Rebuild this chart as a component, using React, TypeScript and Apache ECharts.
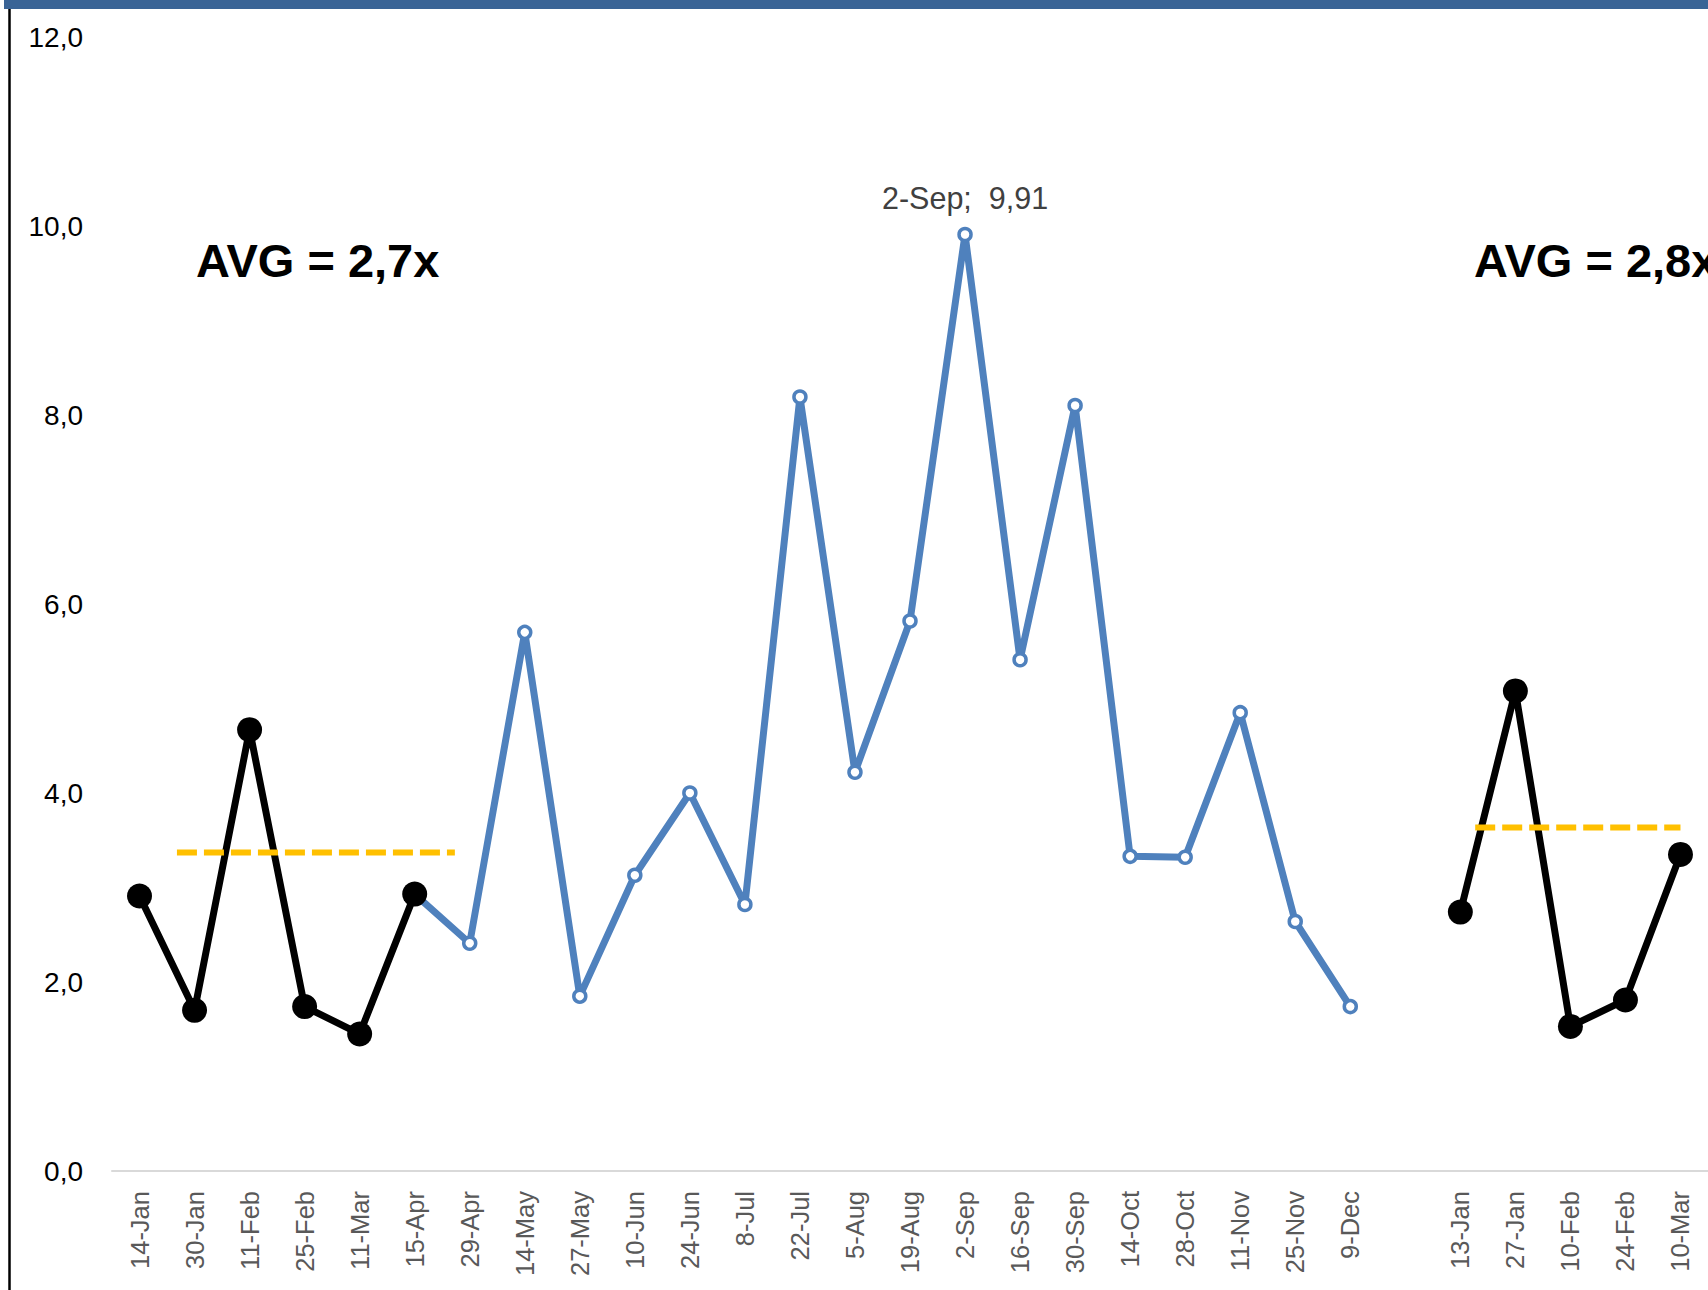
import React, { useEffect, useRef } from "react";
import * as echarts from "echarts";

const categories = [
  "14-Jan", "30-Jan", "11-Feb", "25-Feb", "11-Mar", "15-Apr", "29-Apr", "14-May", "27-May",
  "10-Jun", "24-Jun", "8-Jul", "22-Jul", "5-Aug", "19-Aug", "2-Sep", "16-Sep", "30-Sep",
  "14-Oct", "28-Oct", "11-Nov", "25-Nov", "9-Dec", "", "13-Jan", "27-Jan", "10-Feb", "24-Feb", "10-Mar",
];

const M = "-";
// black segment, first period (14-Jan .. 15-Apr)
const blackFirst = [2.91, 1.70, 4.67, 1.74, 1.45, 2.93, M, M, M, M, M, M, M, M, M, M, M, M, M, M, M, M, M, M, M, M, M, M, M];
// blue segment (15-Apr .. 9-Dec)
const blueMid = [M, M, M, M, M, 2.93, 2.41, 5.70, 1.85, 3.13, 4.00, 2.82, 8.19, 4.22, 5.82, 9.91, 5.41, 8.10, 3.33, 3.32, 4.85, 2.64, 1.74, M, M, M, M, M, M];
// black segment, second period (13-Jan .. 10-Mar)
const blackSecond = [M, M, M, M, M, M, M, M, M, M, M, M, M, M, M, M, M, M, M, M, M, M, M, M, 2.74, 5.08, 1.53, 1.81, 3.35];

// average reference lines: [start index, end index, value]
const avgFirst = [[0.68, 3.37], [5.73, 3.37]];
const avgSecond = [[24.27, 3.635], [28.0, 3.635]];

const yTicks = { min: 0, max: 12, interval: 2 };
const peakIndex = 15;
const peakLabel = "2-Sep;  9,91";
const avgTexts = ["AVG = 2,7x", "AVG = 2,8x"];

const FONT = "'Liberation Sans', Arial, sans-serif";
const BLUE = "#4F81BD";

export default function App() {
  const ref = useRef<HTMLDivElement>(null);

  useEffect(() => {
    if (!ref.current) return;
    const chart = echarts.init(ref.current, null, { renderer: "svg" });

    const blueData = blueMid.map((v, i) => {
      if (i === 5) return { value: v, symbol: "none" };
      if (i === peakIndex)
        return {
          value: v,
          label: {
            show: true,
            position: "top",
            distance: 13,
            formatter: peakLabel,
            color: "#404040",
            fontSize: 30.5,
            fontFamily: FONT,
          },
        };
      return v;
    });

    chart.setOption({
      animation: false,
      backgroundColor: "#ffffff",
      grid: { left: 112, right: 0, top: 37, bottom: 119, containLabel: false },
      xAxis: [
        {
          type: "category",
          data: categories,
          boundaryGap: true,
          axisLine: { show: true, lineStyle: { color: "#D9D9D9", width: 2 } },
          axisTick: { show: false },
          axisLabel: {
            rotate: 90,
            interval: 0,
            margin: 20,
            color: "#595959",
            fontSize: 25.5,
            fontFamily: FONT,
          },
          splitLine: { show: false },
        },
        {
          type: "value",
          min: -0.5,
          max: 28.5,
          show: false,
          position: "bottom",
          splitLine: { show: false },
        },
      ],
      yAxis: {
        type: "value",
        min: yTicks.min,
        max: yTicks.max,
        interval: yTicks.interval,
        axisLine: { show: false },
        axisTick: { show: false },
        splitLine: { show: false },
        axisLabel: {
          margin: 29,
          color: "#000000",
          fontSize: 28,
          fontFamily: FONT,
          formatter: (v: number) => v.toFixed(1).replace(".", ","),
        },
      },
      series: [
        {
          type: "line",
          data: blueData,
          xAxisIndex: 0,
          connectNulls: false,
          lineStyle: { color: BLUE, width: 7 },
          symbol: "circle",
          symbolSize: 12,
          itemStyle: { color: "#ffffff", borderColor: BLUE, borderWidth: 3.5 },
          z: 2,
        },
        {
          type: "line",
          data: blackFirst,
          xAxisIndex: 0,
          lineStyle: { color: "#000000", width: 7 },
          symbol: "circle",
          symbolSize: 25,
          itemStyle: { color: "#000000" },
          z: 3,
        },
        {
          type: "line",
          data: blackSecond,
          xAxisIndex: 0,
          lineStyle: { color: "#000000", width: 7 },
          symbol: "circle",
          symbolSize: 25,
          itemStyle: { color: "#000000" },
          z: 3,
        },
        {
          type: "line",
          data: avgFirst,
          xAxisIndex: 1,
          symbol: "none",
          lineStyle: { color: "#FFC000", width: 6, type: [20, 7] },
          z: 4,
        },
        {
          type: "line",
          data: avgSecond,
          xAxisIndex: 1,
          symbol: "none",
          lineStyle: { color: "#FFC000", width: 6, type: [20, 7] },
          z: 4,
        },
      ],
      graphic: [
        {
          type: "rect",
          shape: { x: 4, y: 0, width: 1704, height: 9 },
          style: { fill: "#3A6496" },
          z: 10,
        },
        {
          type: "line",
          shape: { x1: 9.5, y1: 9, x2: 9.5, y2: 1290 },
          style: { stroke: "#000000", lineWidth: 2.5 },
          z: 10,
        },
        {
          type: "text",
          x: 196,
          y: 260,
          style: {
            text: avgTexts[0],
            fill: "#000000",
            font: `bold 47px ${FONT}`,
            verticalAlign: "middle",
            align: "left",
          },
          z: 10,
        },
        {
          type: "text",
          x: 1474,
          y: 260,
          style: {
            text: avgTexts[1],
            fill: "#000000",
            font: `bold 47px ${FONT}`,
            verticalAlign: "middle",
            align: "left",
          },
          z: 10,
        },
      ],
    });

    return () => chart.dispose();
  }, []);

  return (
    <div
      ref={ref}
      style={{ position: "absolute", left: 0, top: 0, width: 1708, height: 1290, background: "#fff" }}
    />
  );
}
